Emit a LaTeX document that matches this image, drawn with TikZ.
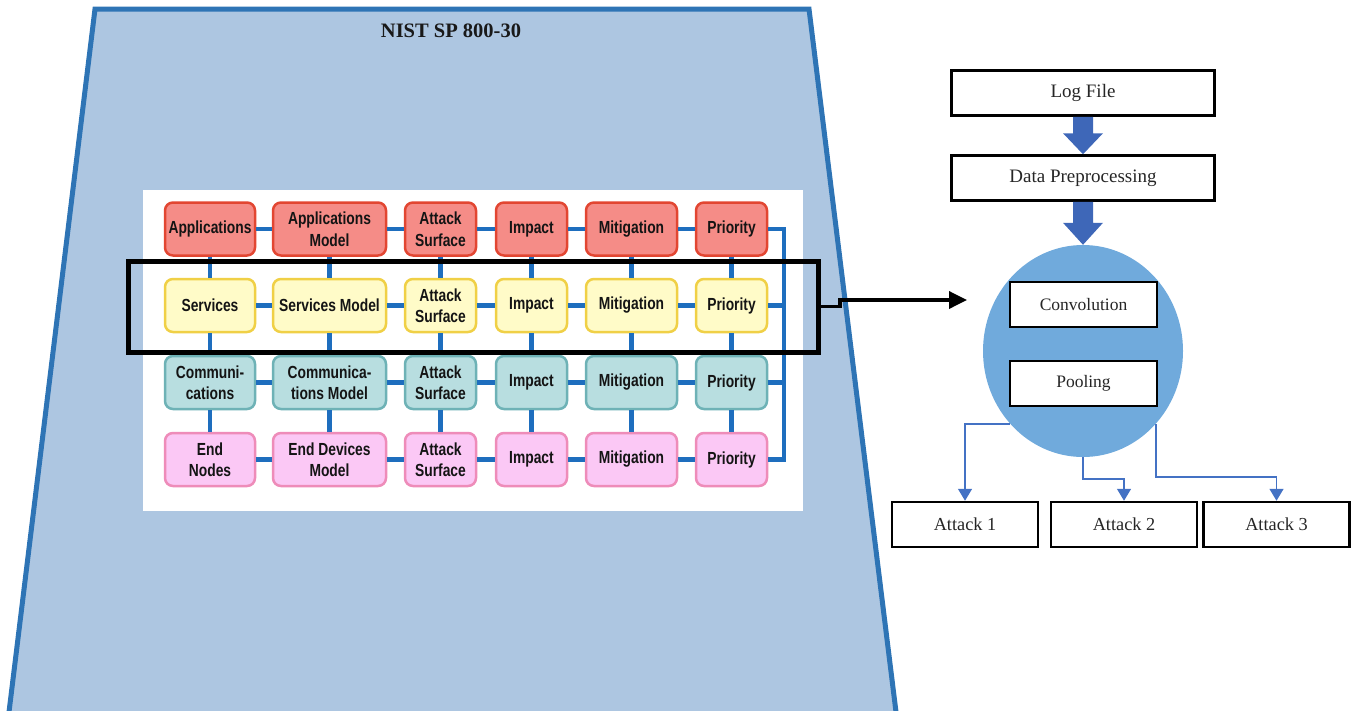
\documentclass[tikz,border=0pt]{standalone}
\usepackage{fontspec}
\setmainfont{Liberation Serif}
\newfontfamily\gridfont[FakeStretch=0.79]{Liberation Sans}
\usetikzlibrary{arrows.meta,shapes.geometric,calc}
\definecolor{trapfill}{RGB}{173,198,225}
\definecolor{trapline}{RGB}{46,116,181}
\definecolor{redfill}{RGB}{245,140,135}
\definecolor{reddraw}{RGB}{226,70,50}
\definecolor{yelfill}{RGB}{255,251,200}
\definecolor{yeldraw}{RGB}{240,208,70}
\definecolor{tealfill}{RGB}{184,222,224}
\definecolor{tealdraw}{RGB}{110,178,182}
\definecolor{pinkfill}{RGB}{251,200,245}
\definecolor{pinkdraw}{RGB}{238,140,185}
\definecolor{busblue}{RGB}{30,110,190}
\definecolor{cnnblue}{RGB}{112,170,220}
\definecolor{arrblue}{RGB}{62,103,184}
\definecolor{thinblue}{RGB}{68,114,196}
\begin{document}
\begin{tikzpicture}[x=1pt,y=-1pt,
  gbox/.style={rounded corners=8pt, line width=2.5pt, minimum height=53pt, inner sep=1pt, align=center,
    font=\gridfont\bfseries\fontsize{17.5}{21.5}\selectfont, text=black!92},
  rbox/.style={gbox, fill=redfill, draw=reddraw},
  ybox/.style={gbox, fill=yelfill, draw=yeldraw},
  tbox/.style={gbox, fill=tealfill, draw=tealdraw},
  pbox/.style={gbox, fill=pinkfill, draw=pinkdraw},
  w1/.style={minimum width=90pt}, w2/.style={minimum width=113pt}, w3/.style={minimum width=71pt},
  w5/.style={minimum width=91pt},
  bus/.style={draw=busblue, line width=4.2pt},
  flowbox/.style={draw=black, line width=2.5pt, fill=white, font=\fontsize{17.5}{20}\selectfont, text=black!85, inner sep=0pt},
  bigtext/.style={font=\fontsize{19}{22}\selectfont},
  midtext/.style={font=\fontsize{18.3}{22}\selectfont},
  thinarrow/.style={draw=thinblue, line width=1.5pt, -{Triangle[length=12pt,width=14pt]}}
]
\useasboundingbox (0,0) rectangle (1357,710);
% trapezoid
\fill[trapfill] (95,9) -- (809,9) -- (896,712) -- (9,712) -- cycle;
\draw[trapline, line width=5pt, line join=miter] (9,712) -- (95,9) -- (809,9) -- (896,712);
\node[font=\bfseries\fontsize{20.5}{24}\selectfont, text=black!90] (title) at (451,31) {NIST SP 800-30};
% white panel
\fill[white] (143,190) rectangle (803,511);
% row 1
\node[rbox,w1] (a1) at (210,229) {Applications};
\node[rbox,w2] (a2) at (329.5,229) {Applications\\Model};
\node[rbox,w3] (a3) at (440.5,229) {Attack\\Surface};
\node[rbox,w3] (a4) at (531.5,229) {Impact};
\node[rbox,w5] (a5) at (631.5,229) {Mitigation};
\node[rbox,w3] (a6) at (731.5,229) {Priority};
% row 2
\node[ybox,w1] (b1) at (210,305.5) {Services};
\node[ybox,w2] (b2) at (329.5,305.5) {Services Model};
\node[ybox,w3] (b3) at (440.5,305.5) {Attack\\Surface};
\node[ybox,w3] (b4) at (531.5,305.5) {Impact};
\node[ybox,w5] (b5) at (631.5,305.5) {Mitigation};
\node[ybox,w3] (b6) at (731.5,305.5) {Priority};
% row 3
\node[tbox,w1] (c1) at (210,382.5) {Communi-\\cations};
\node[tbox,w2] (c2) at (329.5,382.5) {Communica-\\tions Model};
\node[tbox,w3] (c3) at (440.5,382.5) {Attack\\Surface};
\node[tbox,w3] (c4) at (531.5,382.5) {Impact};
\node[tbox,w5] (c5) at (631.5,382.5) {Mitigation};
\node[tbox,w3] (c6) at (731.5,382.5) {Priority};
% row 4
\node[pbox,w1] (d1) at (210,459.5) {End\\Nodes};
\node[pbox,w2] (d2) at (329.5,459.5) {End Devices\\Model};
\node[pbox,w3] (d3) at (440.5,459.5) {Attack\\Surface};
\node[pbox,w3] (d4) at (531.5,459.5) {Impact};
\node[pbox,w5] (d5) at (631.5,459.5) {Mitigation};
\node[pbox,w3] (d6) at (731.5,459.5) {Priority};
% connectors
\foreach \r in {a,b,c,d}{
  \draw[bus] (\r1) -- (\r2);
  \draw[bus] (\r2) -- (\r3);
  \draw[bus] (\r3) -- (\r4);
  \draw[bus] (\r4) -- (\r5);
  \draw[bus] (\r5) -- (\r6);
}
\foreach \c in {1,...,6}{
  \draw[bus] (a\c) -- (b\c);
  \draw[bus] (b\c) -- (c\c);
  \draw[bus] (c\c) -- (d\c);
}
\coordinate (bt) at (784,229);
\coordinate (bb) at (784,459.5);
\draw[bus, line join=miter] (a6.east) -- (bt) -- (bb) -- (d6.east);
\draw[bus] (b6.east) -- (b6.east -| bt);
\draw[bus] (c6.east) -- (c6.east -| bt);
% selection rectangle
\node[draw=black, line width=5pt, minimum width=690pt, minimum height=91pt, inner sep=0pt] (sel) at (473,306.5) {};
\coordinate (tip) at (967,300);
\draw[black, line width=3.5pt, -{Triangle[length=18pt,width=17pt]}] (sel.east) -- (840,306.5) -- (840,300) -- (tip);
% right flow
\node[flowbox, bigtext, minimum width=263pt, minimum height=45pt] (log) at (1083,93) {Log File};
\node[flowbox, bigtext, minimum width=263pt, minimum height=45pt] (dp) at (1083,178) {Data Preprocessing};
\node[ellipse, fill=cnnblue, minimum width=200pt, minimum height=212pt, inner sep=0pt] (cnn) at (1083,351) {};
\node[flowbox, minimum width=147pt, minimum height=45pt] (conv) at (1083.5,304.5) {Convolution};
\node[flowbox, minimum width=147pt, minimum height=45pt] (pool) at (1083.5,383.5) {Pooling};
% thick arrows
\fill[arrblue] ($(log.south)+(-10,0)$) -- ($(log.south)+(10,0)$) -- ($(dp.north)+(10,-21)$) -- ($(dp.north)+(20,-21)$) -- (dp.north) -- ($(dp.north)+(-20,-21)$) -- ($(dp.north)+(-10,-21)$) -- cycle;
\fill[arrblue] ($(dp.south)+(-10,0)$) -- ($(dp.south)+(10,0)$) -- ($(cnn.north)+(10,-22)$) -- ($(cnn.north)+(20,-22)$) -- (cnn.north) -- ($(cnn.north)+(-20,-22)$) -- ($(cnn.north)+(-10,-22)$) -- cycle;
% attacks
\node[flowbox, midtext, minimum width=146pt, minimum height=45pt] (att1) at (965,524.5) {Attack 1};
\node[flowbox, midtext, minimum width=146pt, minimum height=45pt] (att2) at (1124,524.5) {Attack 2};
\node[flowbox, midtext, minimum width=146pt, minimum height=45pt] (att3) at (1276.5,524.5) {Attack 3};
\draw[thinarrow] (cnn.225) -| (att1.north);
\draw[thinarrow] (cnn.south) -- ++(0,22) -| (att2.north);
\draw[thinarrow] (cnn.315) -- ++(0,53) -| (att3.north);
\end{tikzpicture}
\end{document}
